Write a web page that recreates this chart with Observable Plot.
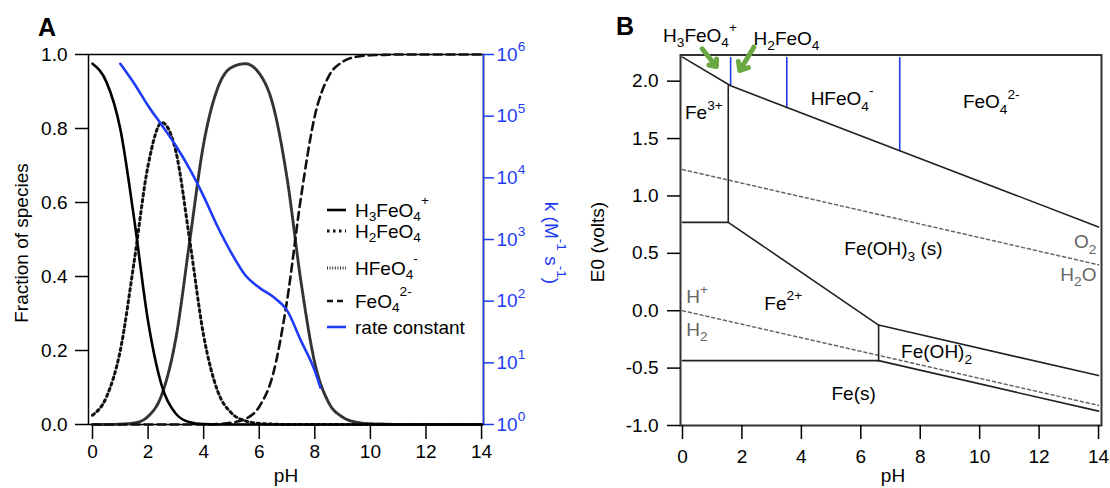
<!DOCTYPE html>
<html><head><meta charset="utf-8">
<script src="https://cdn.jsdelivr.net/npm/d3@7"></script>
<script src="https://cdn.jsdelivr.net/npm/@observablehq/plot@0.6"></script>
<style>
body{margin:0;background:#fff;}
#wrap{position:relative;width:1110px;height:488px;overflow:hidden;background:#fff;}
#wrap svg{position:absolute;top:0;overflow:visible;}
</style></head><body><div id="wrap"></div>
<script>
// ---------------- Panel A data ----------------
const pHGrid = [0,0.5,1,1.5,2,2.5,3,3.5,4,4.5,5,5.5,6,6.5,7,7.5,8,8.5,9,9.5,10,10.5,11,11.5,12,12.5,13,13.5,14];
const fracH3FeO4 = [0.975,0.926,0.799,0.555,0.279,0.103,0.029,0.006,0.001,0,0,0,0,0,0,0,0,0,0,0,0,0,0,0,0,0,0,0,0];
const fracH2FeO4 = [0.025,0.074,0.200,0.441,0.700,0.816,0.738,0.497,0.240,0.091,0.031,0.010,0.003,0.001,0,0,0,0,0,0,0,0,0,0,0,0,0,0,0];
const fracHFeO4  = [0,0,0.001,0.004,0.022,0.082,0.233,0.497,0.759,0.908,0.965,0.975,0.949,0.862,0.666,0.387,0.166,0.059,0.020,0.006,0.002,0.001,0,0,0,0,0,0,0];
const fracFeO4   = [0,0,0,0,0,0,0,0,0,0.001,0.005,0.015,0.048,0.137,0.334,0.613,0.834,0.941,0.980,0.994,0.998,0.999,1,1,1,1,1,1,1];
const ratePH   = [1.0,1.5,2.0,2.5,3.0,3.5,4.0,4.5,5.0,5.5,6.0,6.5,7.0,7.5,8.0,8.2];
const rateLogK = [5.85,5.53,5.17,4.85,4.52,4.14,3.70,3.21,2.78,2.42,2.22,2.07,1.85,1.36,0.87,0.60];
const fracTicks = [0,0.2,0.4,0.6,0.8,1.0];
const pHTicks = [0,2,4,6,8,10,12,14];
const kTicks = [1,10,100,1000,10000,100000,1000000];
const legendLabels = ["H_3FeO_4^+","H_2FeO_4","HFeO_4^-","FeO_4^{2-}","rate constant"];

// ---------------- Panel B data ----------------
const eTicks = [-1.0,-0.5,0,0.5,1.0,1.5,2.0];
const ferrateBoundary = [[0,2.21],[1.62,1.96],[14,0.73]];
const fe3Vertical = [[1.54,1.96],[1.54,0.77]];
const fe3Fe2Boundary = [[0,0.77],[1.54,0.77]];
const fe2FeOH3Boundary = [[1.54,0.77],[6.6,-0.125]];
const fe2FeOH2Vertical = [[6.6,-0.125],[6.6,-0.435]];
const feOH2FeOH3Boundary = [[6.6,-0.125],[14,-0.565]];
const fe2FeBoundary = [[0,-0.435],[6.6,-0.435]];
const feOH2FeBoundary = [[6.6,-0.435],[14,-0.875]];
const o2H2OLine = [[0,1.23],[14,0.40]];
const hH2Line = [[0,0],[14,-0.825]];
const pKaPH = [1.62,3.51,7.31];
const pKaTopE = [2.21,2.21,2.21];
const pKaBottomE = [1.96,1.765,1.39];
const regionLabels = ["Fe^{3+}","HFeO_4^-","FeO_4^{2-}","Fe(OH)_3 (s)","Fe^{2+}","Fe(OH)_2","Fe(s)"];
const regionPH = [0.72,5.37,10.39,7.1,3.39,8.55,5.76];
const regionE  = [1.72,1.847,1.817,0.54,0.061,-0.36,-0.729];
const waterLabels = ["H^+","H_2"];
const waterPH = [0.13,0.13];
const waterE = [0.118,-0.163];
const waterLabelsR = ["O_2","H_2O"];
const waterPHR = [13.93,13.93];
const waterER = [0.598,0.316];
const topLabels = ["H_3FeO_4^+","H_2FeO_4"];
const topPH = [0.59,3.5];
const topE = [2.398,2.37];
const arrowPH1 = [0.66,2.40], arrowE1 = [2.282,2.296];
const arrowPH2 = [1.14,1.93], arrowE2 = [2.128,2.093];

// ---------------- helpers ----------------
const FONT = "'Liberation Sans', Arial, Helvetica, sans-serif";
const FS = 19;
const blue = "#1e3cf5";
const svgns = "http://www.w3.org/2000/svg";
function parseRich(s){
  const runs=[]; let i=0, buf="";
  while(i<s.length){
    const c=s[i];
    if(c==="_"||c==="^"){
      if(buf){runs.push({t:"n",s:buf});buf="";}
      let txt;
      if(s[i+1]==="{"){const j=s.indexOf("}",i+2); txt=s.slice(i+2,j); i=j+1;}
      else {txt=s[i+1]; i+=2;}
      runs.push({t:c==="_"?"sub":"sup",s:txt});
    } else {buf+=c;i++;}
  }
  if(buf) runs.push({t:"n",s:buf});
  return runs;
}
function fillRich(textEl, s, fs, supShift){
  textEl.textContent="";
  let shift=0;
  for(const r of parseRich(s)){
    const ts=document.createElementNS(svgns,"tspan");
    const target = r.t==="sub" ? 0.3*fs : r.t==="sup" ? -(supShift||0.45)*fs : 0;
    if(target-shift!==0) ts.setAttribute("dy", target-shift);
    shift=target;
    if(r.t!=="n") ts.setAttribute("font-size", 0.72*fs);
    ts.textContent=r.s;
    textEl.appendChild(ts);
  }
}
function richify(svg, supShift){
  d3.select(svg).selectAll("text").each(function(){
    const s=this.textContent;
    if(!/[_^]/.test(s) || this.querySelector("tspan")) return;
    const fs=parseFloat(getComputedStyle(this).fontSize)||FS;
    fillRich(this,s,fs,supShift);
  });
}
function addText(svg, x, y, s, opts={}){
  const t=d3.select(svg).append("text")
    .attr("x",x).attr("y",y)
    .attr("font-family",FONT)
    .attr("font-size",opts.fs||FS)
    .attr("font-weight",opts.weight||"normal")
    .attr("fill",opts.fill||"#000")
    .attr("text-anchor",opts.anchor||"middle")
    .attr("dominant-baseline","central");
  if(opts.rotate!=null) t.attr("transform",`rotate(${opts.rotate},${x},${y})`);
  fillRich(t.node(), s, opts.fs||FS, opts.sup);
  return t;
}
const wrap=document.getElementById("wrap");

// ---------------- Panel A ----------------
const xDomA=[-0.144,14.07];
const commonA = {width:560,height:488,marginLeft:88,marginRight:77,marginTop:54,marginBottom:64,
  style:{fontFamily:FONT,fontSize:FS+"px",background:"transparent",color:"#000",overflow:"visible"}};
const lineOpts = (arr) => ({x:(d)=>d, y:(d,i)=>arr[i], curve:"monotone-x"});
const hfeStyle = {stroke:"#333",strokeWidth:3,strokeDasharray:"1,1.6"};
const plotA = Plot.plot({...commonA,
  x:{domain:xDomA},
  y:{domain:[0,1]},
  marks:[
    Plot.frame({stroke:"#000",strokeWidth:1.5}),
    Plot.axisX(pHTicks,{tickSize:15,tickPadding:5,strokeWidth:1.5,label:null}),
    Plot.axisY(fracTicks,{tickSize:13,tickPadding:8,strokeWidth:1.5,tickFormat:d=>d.toFixed(1),label:null}),
    Plot.line(pHGrid,{...lineOpts(fracHFeO4),...hfeStyle}),
    Plot.line(pHGrid,{...lineOpts(fracH2FeO4),stroke:"#111",strokeWidth:3,strokeDasharray:"2.5,3.5"}),
    Plot.line(pHGrid,{...lineOpts(fracFeO4),stroke:"#111",strokeWidth:2.6,strokeDasharray:"8,5"}),
    Plot.line(pHGrid,{...lineOpts(fracH3FeO4),stroke:"#000",strokeWidth:2.6})
  ]
});
plotA.style.left="0px";
wrap.appendChild(plotA);

const plotA2 = Plot.plot({...commonA,
  x:{domain:xDomA,axis:null},
  y:{type:"log",domain:[1,1e6]},
  marks:[
    Plot.ruleX([xDomA[1]],{stroke:blue,strokeWidth:1.5}),
    Plot.axisY(kTicks,{anchor:"right",tickSize:10,tickPadding:3,stroke:blue,fill:blue,strokeWidth:1.5,
      tickFormat:d=>"10^"+Math.round(Math.log10(d)),label:null}),
    Plot.line(ratePH,{x:d=>d,y:(d,i)=>Math.pow(10,rateLogK[i]),stroke:blue,strokeWidth:2.6,curve:"monotone-x"})
  ]
});
plotA2.style.left="0px";
wrap.appendChild(plotA2);
richify(plotA2,0.5);

// axis labels & panel letter A
addText(plotA,21,243,"Fraction of species",{rotate:-90});
addText(plotA,286,475,"pH");
addText(plotA2,552,243,"k (M^{-1} s^{-1})",{rotate:90,fill:blue,sup:0.5});
addText(plotA,47,27,"A",{fs:25,weight:"bold"});

// legend
const legendStyles=[
  {stroke:"#000",w:2.6,dash:null},
  {stroke:"#111",w:3,dash:"2.5,3.5"},
  {stroke:"#333",w:3,dash:"1,1.6"},
  {stroke:"#111",w:2.6,dash:"6,4"},
  {stroke:blue,w:2.6,dash:null}
];
const legendY=[210,231,268,301,327];
const lg=d3.select(plotA2).append("g");
legendLabels.forEach((lab,i)=>{
  const st=legendStyles[i];
  const ln=lg.append("line").attr("x1",327).attr("x2",346).attr("y1",legendY[i]).attr("y2",legendY[i])
    .attr("stroke",st.stroke).attr("stroke-width",st.w);
  if(st.dash) ln.attr("stroke-dasharray",st.dash);
  addText(lg.node(),355,legendY[i],lab,{anchor:"start",sup:0.55});
});

// ---------------- Panel B ----------------
const xDomB=[-0.067,14.1];
const gray="#666";
const pathMark=(arr,opt)=>Plot.line(arr,{x:d=>d[0],y:d=>d[1],...opt});
const bLine={stroke:"#222",strokeWidth:1.6};
const plotB = Plot.plot({width:550,height:488,marginLeft:120,marginRight:9,marginTop:54.5,marginBottom:63,
  style:{fontFamily:FONT,fontSize:FS+"px",background:"transparent",color:"#000",overflow:"visible"},
  x:{domain:xDomB},
  y:{domain:[-1.0,2.228]},
  marks:[
    Plot.frame({stroke:"#333",strokeWidth:2}),
    Plot.axisX(pHTicks,{tickSize:14,tickPadding:10,strokeWidth:1.5,label:null}),
    Plot.axisY(eTicks,{tickSize:13,tickPadding:9,strokeWidth:1.5,tickFormat:d=>d.toFixed(1),label:null}),
    pathMark(o2H2OLine,{stroke:gray,strokeWidth:1.5,strokeDasharray:"3,3"}),
    pathMark(hH2Line,{stroke:gray,strokeWidth:1.5,strokeDasharray:"3,3"}),
    Plot.link(pKaPH,{x1:d=>d,x2:d=>d,y1:(d,i)=>pKaTopE[i],y2:(d,i)=>pKaBottomE[i],stroke:blue,strokeWidth:1.6}),
    pathMark(ferrateBoundary,bLine),
    pathMark(fe3Vertical,bLine),
    pathMark(fe3Fe2Boundary,bLine),
    pathMark(fe2FeOH3Boundary,bLine),
    pathMark(fe2FeOH2Vertical,bLine),
    pathMark(feOH2FeOH3Boundary,bLine),
    pathMark(fe2FeBoundary,bLine),
    pathMark(feOH2FeBoundary,bLine),
    Plot.text(regionLabels,{x:(d,i)=>regionPH[i],y:(d,i)=>regionE[i],text:d=>d,fill:"#000"}),
    Plot.text(waterLabels,{x:(d,i)=>waterPH[i],y:(d,i)=>waterE[i],text:d=>d,fill:gray,textAnchor:"start"}),
    Plot.text(waterLabelsR,{x:(d,i)=>waterPHR[i],y:(d,i)=>waterER[i],text:d=>d,fill:gray,textAnchor:"end"}),
    Plot.text(topLabels,{x:(d,i)=>topPH[i],y:(d,i)=>topE[i],text:d=>d,fill:"#000"}),
    Plot.arrow(arrowPH1,{x1:d=>d,y1:(d,i)=>arrowE1[i],x2:(d,i)=>arrowPH2[i],y2:(d,i)=>arrowE2[i],
      stroke:"#6aa843",strokeWidth:5,headLength:9,headAngle:80})
  ]
});
plotB.style.left="560px";
wrap.appendChild(plotB);
richify(plotB,0.5);
addText(plotB,37,242,"E0 (volts)",{rotate:-90});
addText(plotB,333,475,"pH");
addText(plotB,65,26,"B",{fs:25,weight:"bold"});
</script>
</body></html>
